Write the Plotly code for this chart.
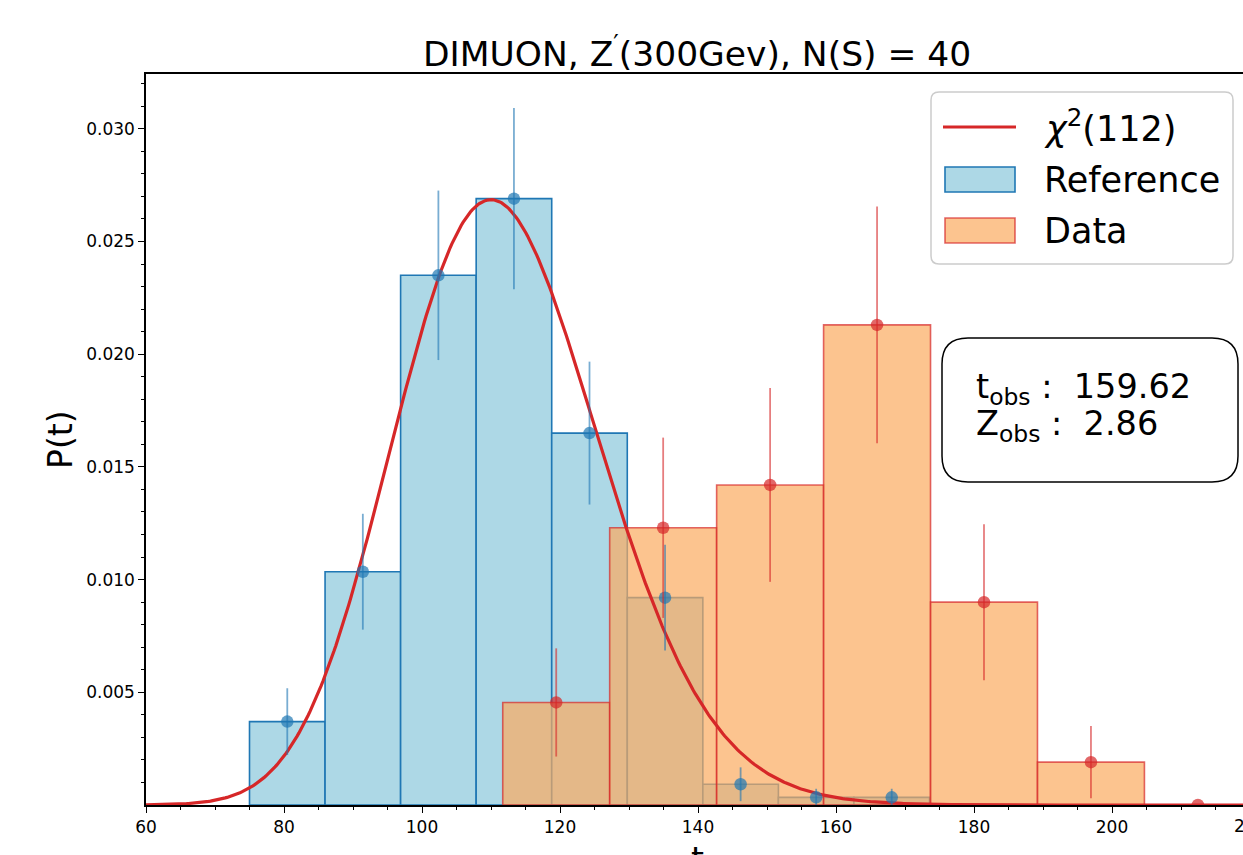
import math
import numpy as np
import plotly.graph_objects as go

# ---------------- data ----------------
ref_edges = [75.0, 85.95, 96.9, 107.85, 118.8, 129.75, 140.7, 151.65, 162.6, 173.55]
ref_density = [0.0037, 0.01035, 0.0235, 0.0269, 0.0165, 0.0092, 0.00092, 0.00034, 0.00034]
ref_err = [0.00148, 0.00257, 0.00376, 0.00402, 0.00317, 0.00235, 0.00075, 0.00038, 0.00038]

data_edges = [111.7, 127.2, 142.7, 158.2, 173.7, 189.2, 204.7, 220.2]
data_density = [0.00455, 0.0123, 0.0142, 0.0213, 0.0090, 0.0019, 0.0]
data_err = [0.0024, 0.0040, 0.0043, 0.00525, 0.00346, 0.0016, 0.0]

chi2_dof = 112
t_obs = 159.62
z_obs = 2.86

x_ticks = [60, 80, 100, 120, 140, 160, 180, 200]
y_ticks = [0.005, 0.010, 0.015, 0.020, 0.025, 0.030]

# ---------------- layout geometry ----------------
W, H = 1243, 855
L, R, T, B = 146, 0, 74, 50
PW, PH = W - L - R, H - T - B
XMIN = 60
XPX = 6.9            # pixels per x unit
XMAX = XMIN + PW / XPX
YMAX = PH / 22540.0  # 0.005 per 112.7 px

def px(xp):
    return (xp - L) / PW

def py(yp):
    return (H - B - yp) / PH

FONT = "DejaVu Sans"
BLUE = "rgb(31,119,180)"
LIGHTBLUE = "rgb(173,216,230)"
ORANGE_A = "rgba(251,171,96,0.7)"
RED = "rgb(214,39,40)"
RED_A = "rgba(214,39,40,0.7)"


def centers(edges):
    return [(a + b) / 2 for a, b in zip(edges[:-1], edges[1:])]


def widths(edges):
    return [b - a for a, b in zip(edges[:-1], edges[1:])]


# chi-square density with chi2_dof degrees of freedom
t = np.linspace(XMIN, 220, 600)
k = chi2_dof
logpdf = (k / 2 - 1) * np.log(t) - t / 2 - (k / 2) * math.log(2) - math.lgamma(k / 2)
pdf = np.exp(logpdf)

fig = go.Figure()

fig.add_trace(go.Bar(
    x=centers(ref_edges), y=ref_density, width=widths(ref_edges),
    marker=dict(color=LIGHTBLUE, line=dict(color=BLUE, width=1.6)),
    name="Reference", showlegend=False,
))
fig.add_trace(go.Bar(
    x=centers(data_edges), y=data_density, width=widths(data_edges),
    marker=dict(color=ORANGE_A, line=dict(color=RED_A, width=1.6)),
    name="Data", showlegend=False,
))
fig.add_trace(go.Scatter(
    x=t, y=pdf, mode="lines", line=dict(color=RED, width=3.2),
    name="chi2", showlegend=False,
))
fig.add_trace(go.Scatter(
    x=centers(ref_edges), y=ref_density, mode="markers",
    marker=dict(color="rgba(31,119,180,0.7)", size=12.5),
    error_y=dict(type="data", array=ref_err, color="rgba(31,119,180,0.6)",
                 thickness=1.8, width=0),
    showlegend=False,
))
fig.add_trace(go.Scatter(
    x=centers(data_edges), y=data_density, mode="markers",
    marker=dict(color="rgba(214,39,40,0.7)", size=12.5),
    error_y=dict(type="data", array=data_err, color="rgba(214,39,40,0.6)",
                 thickness=1.8, width=0),
    showlegend=False,
))

shapes = []
annotations = []


def rrect(x0, y0, x1, y1, r):
    pts = [
        f"M {px(x0 + r)},{py(y0)}",
        f"L {px(x1 - r)},{py(y0)}",
        f"Q {px(x1)},{py(y0)} {px(x1)},{py(y0 + r)}",
        f"L {px(x1)},{py(y1 - r)}",
        f"Q {px(x1)},{py(y1)} {px(x1 - r)},{py(y1)}",
        f"L {px(x0 + r)},{py(y1)}",
        f"Q {px(x0)},{py(y1)} {px(x0)},{py(y1 - r)}",
        f"L {px(x0)},{py(y0 + r)}",
        f"Q {px(x0)},{py(y0)} {px(x0 + r)},{py(y0)}",
        "Z",
    ]
    return " ".join(pts)


# legend box
shapes.append(dict(type="path", xref="paper", yref="paper", layer="above",
                   path=rrect(931, 92, 1233, 264, 8),
                   line=dict(color="rgb(204,204,204)", width=1.5),
                   fillcolor="rgba(255,255,255,0.8)"))
shapes.append(dict(type="line", xref="paper", yref="paper", layer="above",
                   x0=px(943), x1=px(1016), y0=py(127), y1=py(127),
                   line=dict(color=RED, width=3)))
shapes.append(dict(type="rect", xref="paper", yref="paper", layer="above",
                   x0=px(945), x1=px(1015), y0=py(167), y1=py(192),
                   line=dict(color=BLUE, width=1.6), fillcolor=LIGHTBLUE))
shapes.append(dict(type="rect", xref="paper", yref="paper", layer="above",
                   x0=px(945), x1=px(1015), y0=py(218), y1=py(243),
                   line=dict(color=RED_A, width=1.6), fillcolor=ORANGE_A))
for txt, yc in [(f"<i>χ</i><sup>2</sup>({chi2_dof})", 126),
                ("Reference", 180), ("Data", 231)]:
    annotations.append(dict(xref="paper", yref="paper", x=px(1042), y=py(yc),
                            xanchor="left", yanchor="middle", showarrow=False,
                            text=txt, font=dict(family=FONT, size=35, color="black")))

# observation box
shapes.append(dict(type="path", xref="paper", yref="paper", layer="above",
                   path=rrect(942, 338, 1238, 482, 26),
                   line=dict(color="black", width=1.5), fillcolor="white"))
annotations.append(dict(xref="paper", yref="paper", x=px(974), y=py(389),
                        xanchor="left", yanchor="middle", showarrow=False,
                        text=f"t<sub>obs</sub> :  {t_obs:.2f}",
                        font=dict(family=FONT, size=33.5, color="black")))
annotations.append(dict(xref="paper", yref="paper", x=px(974), y=py(426),
                        xanchor="left", yanchor="middle", showarrow=False,
                        text=f"Z<sub>obs</sub> :  {z_obs:.2f}",
                        font=dict(family=FONT, size=33.5, color="black")))

# title
annotations.append(dict(xref="paper", yref="paper", x=px(697), y=py(52),
                        xanchor="center", yanchor="middle", showarrow=False,
                        text="DIMUON, Z<sup>′</sup>(300Gev), N(S) = 40",
                        font=dict(family=FONT, size=34.5, color="black")))
# y label
annotations.append(dict(xref="paper", yref="paper", x=px(60), y=py(440),
                        xanchor="center", yanchor="middle", showarrow=False,
                        textangle=-90, text="P(t)",
                        font=dict(family=FONT, size=33, color="black")))
# x label (cut by the bottom edge in the reference)
annotations.append(dict(xref="paper", yref="paper", x=px(697), y=py(838),
                        xanchor="center", yanchor="top", showarrow=False,
                        text="t", font=dict(family=FONT, size=33, color="black")))
# partially visible tick label at the right edge
annotations.append(dict(xref="paper", yref="paper", x=(220 - XMIN) / (XMAX - XMIN),
                        y=py(814), xanchor="center", yanchor="top", showarrow=False,
                        text="220", font=dict(family=FONT, size=17, color="black")))

fig.update_layout(
    width=W, height=H,
    margin=dict(l=L, r=R, t=T, b=B),
    paper_bgcolor="white", plot_bgcolor="white",
    barmode="overlay", showlegend=False,
    font=dict(family=FONT, color="black"),
    shapes=shapes, annotations=annotations,
)
fig.update_xaxes(
    range=[XMIN, XMAX], showgrid=False, zeroline=False,
    showline=True, linecolor="black", linewidth=1.5, mirror=True,
    tickmode="array", tickvals=x_ticks, ticktext=[str(v) for v in x_ticks],
    ticks="outside", ticklen=6, tickwidth=1.2, tickcolor="black",
    tickfont=dict(family=FONT, size=17, color="black"),
    minor=dict(tickmode="array", tickvals=list(range(60, 225, 5)),
               ticks="outside", ticklen=3.5, tickwidth=1, tickcolor="black"),
)
fig.update_yaxes(
    range=[0, YMAX], showgrid=False, zeroline=False,
    showline=True, linecolor="black", linewidth=1.5,
    tickmode="array", tickvals=y_ticks, ticktext=[f"{v:.3f}" for v in y_ticks],
    ticks="outside", ticklen=6, tickwidth=1.2, tickcolor="black",
    tickfont=dict(family=FONT, size=17, color="black"),
    minor=dict(tickmode="array", tickvals=[i / 1000 for i in range(1, 33)],
               ticks="outside", ticklen=3.5, tickwidth=1, tickcolor="black"),
)

fig.write_html("out.html")
